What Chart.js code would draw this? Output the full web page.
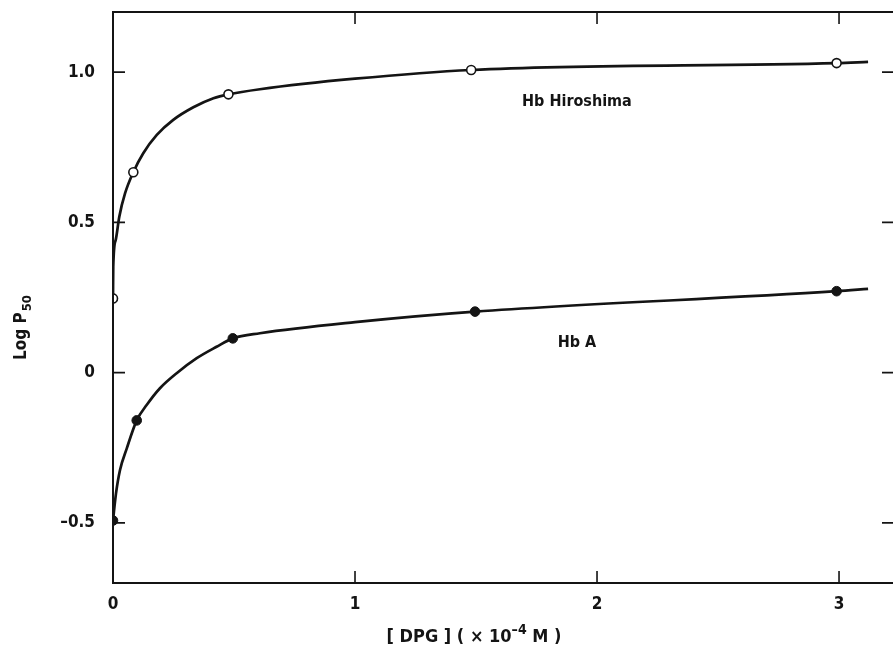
<!DOCTYPE html>
<html>
<head>
<meta charset="utf-8">
<title>Log P50 vs DPG</title>
<script src="https://cdn.jsdelivr.net/npm/chart.js@4.4.1/dist/chart.umd.min.js"></script>
<style>
  html, body { margin: 0; padding: 0; background: #fff; overflow: hidden; }
  #wrap { position: relative; width: 893px; height: 645px; }
</style>
</head>
<body>
<div id="wrap"><canvas id="myChart"></canvas></div>
<script>
const hiroX = [0, 0.084, 0.477, 1.48, 2.99]
const hiroY = [0.247, 0.667, 0.926, 1.007, 1.030]
const hbaX = [0, 0.098, 0.495, 1.496, 2.99]
const hbaY = [-0.492, -0.159, 0.114, 0.203, 0.271]

// drawn curves
const hiroCurveX = [0, 0.001, 0.011, 0.026, 0.050, 0.084, 0.125, 0.181, 0.249, 0.332, 0.415, 0.477, 0.607, 1.0, 1.48, 2.99, 3.12]
const hiroCurveY = [0.247, 0.352, 0.441, 0.519, 0.597, 0.667, 0.730, 0.791, 0.841, 0.883, 0.913, 0.926, 0.943, 0.978, 1.007, 1.030, 1.034]
const hbaCurveX = [0, 0.0124, 0.029, 0.057, 0.098, 0.139, 0.194, 0.263, 0.346, 0.428, 0.495, 0.607, 1.0, 1.496, 2.99, 3.12]
const hbaCurveY = [-0.492, -0.402, -0.324, -0.252, -0.159, -0.108, -0.052, -0.002, 0.048, 0.086, 0.114, 0.131, 0.168, 0.203, 0.271, 0.279]

// axis ticks
const xTicks = [0, 1, 2, 3]
const yTicks = [-0.5, 0, 0.5, 1.0]

const FONT = '"Liberation Sans Narrow", "DejaVu Sans Condensed", sans-serif'
const INK = '#141414'

const pts = (xs, ys) => xs.map((x, i) => ({x: x, y: ys[i]}))

// frame (right side runs off the page), inward ticks and the text labels
const framePlugin = {
    id: 'frame',
    afterDraw: (chart) => {
        const {ctx, chartArea: {top, bottom, left, right}, scales: {x, y}} = chart
        ctx.save()
        ctx.strokeStyle = INK
        ctx.lineWidth = 2
        ctx.beginPath()
        ctx.moveTo(right + 5, top); ctx.lineTo(left, top)
        ctx.lineTo(left, bottom); ctx.lineTo(right + 5, bottom)
        ctx.stroke()

        ctx.lineWidth = 1.6
        ctx.beginPath()
        yTicks.forEach(v => {
            const py = y.getPixelForValue(v)
            ctx.moveTo(left, py); ctx.lineTo(left + 12, py)
            ctx.moveTo(right + 2, py); ctx.lineTo(right - 11, py)
        })
        xTicks.forEach(v => {
            if (v === 0) return
            const px = x.getPixelForValue(v)
            ctx.moveTo(px, bottom); ctx.lineTo(px, bottom - 12)
            ctx.moveTo(px, top); ctx.lineTo(px, top + 12)
        })
        ctx.stroke()

        // curve labels
        ctx.fillStyle = INK
        ctx.font = 'bold 16px ' + FONT
        ctx.textAlign = 'center'
        ctx.textBaseline = 'middle'
        ctx.fillText('Hb Hiroshima', x.getPixelForValue(1.917), y.getPixelForValue(0.90))
        ctx.fillText('Hb A', x.getPixelForValue(1.917), y.getPixelForValue(0.10))

        // x title: [ DPG ] ( x 10^-4 M )
        ctx.textAlign = 'left'
        ctx.textBaseline = 'alphabetic'
        const big = 'bold 18px ' + FONT
        const small = 'bold 14px ' + FONT
        const parts = [['[ DPG ] ( \u00d7 10', big, 0], ['\u20134', small, -8], [' M )', big, 0]]
        let total = 0
        parts.forEach(p => { ctx.font = p[1]; total += ctx.measureText(p[0]).width })
        let cx = 474 - total / 2
        parts.forEach(p => {
            ctx.font = p[1]
            ctx.fillText(p[0], cx, 642 + p[2])
            cx += ctx.measureText(p[0]).width
        })

        // y title: Log P50, rotated
        ctx.translate(26, 328)
        ctx.rotate(-Math.PI / 2)
        ctx.font = 'bold 17px ' + FONT
        const w1 = ctx.measureText('Log P').width
        ctx.font = 'bold 13px ' + FONT
        const w2 = ctx.measureText('50').width
        let sx = -(w1 + w2) / 2
        ctx.font = 'bold 17px ' + FONT
        ctx.fillText('Log P', sx, 0)
        ctx.font = 'bold 13px ' + FONT
        ctx.fillText('50', sx + w1 + 1, 5)
        ctx.restore()
    }
}

const ctx = document.getElementById('myChart').getContext('2d')
const myChart = new Chart(ctx, {
    type: 'scatter',
    data: {
        datasets: [
            {
                label: 'Hb Hiroshima',
                data: pts(hiroX, hiroY),
                pointStyle: 'circle',
                pointRadius: 4.5,
                pointBackgroundColor: '#ffffff',
                pointBorderColor: INK,
                pointBorderWidth: 1.6,
                order: 0
            },
            {
                label: 'Hb A',
                data: pts(hbaX, hbaY),
                pointStyle: 'circle',
                pointRadius: 4.8,
                pointBackgroundColor: INK,
                pointBorderColor: INK,
                pointBorderWidth: 1,
                order: 0
            },
            {
                label: 'Hb Hiroshima curve',
                data: pts(hiroCurveX, hiroCurveY),
                showLine: true,
                borderColor: INK,
                borderWidth: 2.7,
                pointRadius: 0,
                cubicInterpolationMode: 'monotone',
                fill: false,
                order: 1
            },
            {
                label: 'Hb A curve',
                data: pts(hbaCurveX, hbaCurveY),
                showLine: true,
                borderColor: INK,
                borderWidth: 2.7,
                pointRadius: 0,
                cubicInterpolationMode: 'monotone',
                fill: false,
                order: 1
            }
        ]
    },
    options: {
        responsive: true,
        maintainAspectRatio: false,
        animation: false,
        layout: {autoPadding: false, padding: {left: 0, top: 12, right: 0, bottom: 0}},
        scales: {
            x: {
                type: 'linear',
                min: 0,
                max: 3.223,
                afterBuildTicks: (scale) => { scale.ticks = xTicks.map(v => ({value: v})) },
                afterFit: (scale) => {
                    scale.height = 62
                    scale.paddingLeft = 0
                    scale.paddingRight = 0
                },
                grid: {display: false, drawTicks: false},
                border: {display: false},
                ticks: {
                    color: INK,
                    padding: 11,
                    font: {family: FONT, size: 17, weight: 'bold'},
                    callback: (v) => String(v)
                }
            },
            y: {
                type: 'linear',
                min: -0.7,
                max: 1.2,
                afterBuildTicks: (scale) => { scale.ticks = yTicks.map(v => ({value: v})) },
                afterFit: (scale) => {
                    scale.width = 113
                    scale.paddingTop = 0
                    scale.paddingBottom = 0
                },
                grid: {display: false, drawTicks: false},
                border: {display: false},
                ticks: {
                    color: INK,
                    padding: 18,
                    font: {family: FONT, size: 17, weight: 'bold'},
                    callback: (v) => v === 0 ? '0' : (v < 0 ? '\u2013' + Math.abs(v).toFixed(1) : v.toFixed(1))
                }
            }
        },
        plugins: {
            legend: {display: false},
            tooltip: {enabled: false}
        }
    },
    plugins: [framePlugin]
})
</script>
</body>
</html>
